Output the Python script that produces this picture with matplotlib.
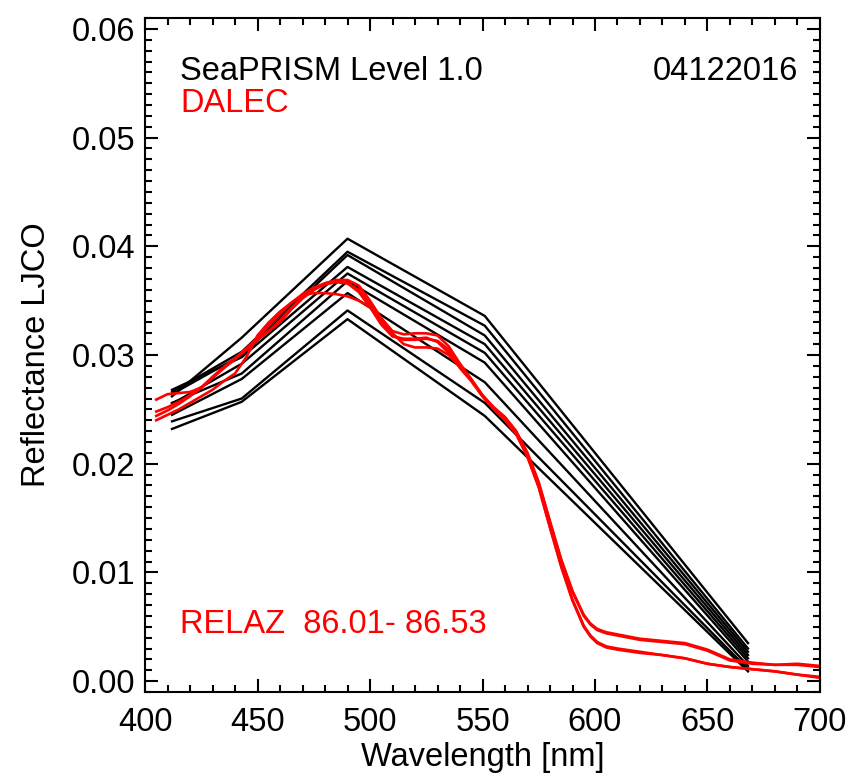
import matplotlib
matplotlib.use('Agg')
import matplotlib.pyplot as plt
from matplotlib.ticker import MultipleLocator, FormatStrFormatter

plt.rcParams['font.family'] = ['Liberation Sans', 'DejaVu Sans']

# SeaPRISM Level 1.0 bands
sp_wl = [412, 443, 490, 551, 668]
sp_spectra = [
    [0.0262, 0.0316, 0.0407, 0.0336, 0.0035],
    [0.0266, 0.0303, 0.0395, 0.0327, 0.0030],
    [0.0264, 0.0300, 0.0392, 0.0318, 0.0027],
    [0.0268, 0.0298, 0.0381, 0.0310, 0.0024],
    [0.0255, 0.0292, 0.0375, 0.0302, 0.0021],
    [0.0256, 0.0283, 0.0368, 0.0293, 0.0018],
    [0.0245, 0.0278, 0.0357, 0.0275, 0.0014],
    [0.0239, 0.0260, 0.0341, 0.0256, 0.0011],
    [0.0232, 0.0257, 0.0333, 0.0244, 0.0009],
]

# DALEC hyperspectral
dl_wl = [405, 410, 415, 420, 425, 430, 435, 440, 445, 450,
         455, 460, 465, 470, 475, 480, 485, 490, 495, 500,
         505, 510, 515, 520, 525, 530, 535, 540, 545, 550,
         555, 560, 565, 570, 575, 580, 585, 590, 595, 598,
         601, 605, 610, 620, 630, 640, 650, 660, 670, 680, 690, 700]
dl_spectra = [
    [0.0259, 0.0264, 0.0265, 0.0266, 0.0270, 0.0279, 0.0288, 0.0296, 0.0305, 0.0315,
     0.0322, 0.0330, 0.0342, 0.0352, 0.0360, 0.0366, 0.0369, 0.0369, 0.0364, 0.0350,
     0.0334, 0.0322, 0.0319, 0.0320, 0.0320, 0.0318, 0.0308, 0.0292, 0.0278, 0.0263,
     0.0252, 0.0243, 0.0230, 0.0210, 0.0183, 0.0147, 0.0112, 0.0083, 0.0061, 0.0053,
     0.0048, 0.0045, 0.0043, 0.0039, 0.0037, 0.0035, 0.0029, 0.0020, 0.0017, 0.0015, 0.0016, 0.0014],
    [0.0248, 0.0252, 0.0257, 0.0263, 0.0270, 0.0280, 0.0289, 0.0297, 0.0305, 0.0314,
     0.0322, 0.0332, 0.0343, 0.0353, 0.0360, 0.0365, 0.0367, 0.0366, 0.0360, 0.0347,
     0.0331, 0.0318, 0.0314, 0.0314, 0.0315, 0.0313, 0.0305, 0.0290, 0.0277, 0.0262,
     0.0251, 0.0242, 0.0229, 0.0209, 0.0182, 0.0146, 0.0111, 0.0082, 0.0060, 0.0052,
     0.0047, 0.0044, 0.0042, 0.0038, 0.0036, 0.0034, 0.0028, 0.0019, 0.0016, 0.0015, 0.0015, 0.0013],
    [0.0240, 0.0245, 0.0250, 0.0256, 0.0262, 0.0268, 0.0276, 0.0283, 0.0298, 0.0318,
     0.0330, 0.0340, 0.0348, 0.0356, 0.0362, 0.0366, 0.0368, 0.0366, 0.0358, 0.0344,
     0.0328, 0.0317, 0.0315, 0.0315, 0.0316, 0.0312, 0.0302, 0.0288, 0.0276, 0.0262,
     0.0250, 0.0240, 0.0227, 0.0206, 0.0178, 0.0141, 0.0105, 0.0074, 0.0050, 0.0041,
     0.0035, 0.0031, 0.0029, 0.0026, 0.0024, 0.0021, 0.0016, 0.0013, 0.0011, 0.0009, 0.0006, 0.0003],
    [0.0244, 0.0249, 0.0255, 0.0262, 0.0270, 0.0279, 0.0288, 0.0297, 0.0306, 0.0316,
     0.0327, 0.0338, 0.0348, 0.0355, 0.0357, 0.0357, 0.0356, 0.0354, 0.0350, 0.0344,
     0.0334, 0.0320, 0.0310, 0.0307, 0.0307, 0.0306, 0.0300, 0.0289, 0.0277, 0.0263,
     0.0251, 0.0241, 0.0228, 0.0207, 0.0179, 0.0142, 0.0106, 0.0075, 0.0051, 0.0042,
     0.0036, 0.0032, 0.0030, 0.0027, 0.0024, 0.0021, 0.0016, 0.0013, 0.0011, 0.0009, 0.0006, 0.0004],
]

date_str = '04122016'
relaz_str = 'RELAZ  86.01- 86.53'

fs = 23.5
fig = plt.figure(figsize=(8.5, 7.74), dpi=100)
ax = fig.add_axes([0.1706, 0.1059, 0.7941, 0.8708])

for s in sp_spectra:
    ax.plot(sp_wl, s, color='black', lw=1.7)
for s in dl_spectra:
    ax.plot(dl_wl, s, color='red', lw=1.9)

ax.set_xlim(400, 700)
ax.set_ylim(-0.001, 0.061)
ax.xaxis.set_major_locator(MultipleLocator(50))
ax.xaxis.set_minor_locator(MultipleLocator(10))
ax.yaxis.set_major_locator(MultipleLocator(0.01))
ax.yaxis.set_minor_locator(MultipleLocator(0.001))
ax.yaxis.set_major_formatter(FormatStrFormatter('%.2f'))
ax.tick_params(which='both', direction='in', top=True, right=True, width=1.5, labelsize=fs)
ax.tick_params(which='major', length=9.5)
ax.tick_params(which='minor', length=5)
ax.tick_params(axis='x', pad=11)
ax.tick_params(axis='y', pad=7)
for sp in ax.spines.values():
    sp.set_linewidth(1.5)

ax.set_xlabel('Wavelength [nm]', fontsize=fs, labelpad=2.5)
ax.set_ylabel('Reflectance LJCO', fontsize=fs, labelpad=14)

ax.text(0.052, 0.908, 'SeaPRISM Level 1.0', transform=ax.transAxes, fontsize=fs, ha='left', va='baseline')
ax.text(0.967, 0.908, date_str, transform=ax.transAxes, fontsize=fs, ha='right', va='baseline')
ax.text(0.052, 0.861, 'DALEC', transform=ax.transAxes, fontsize=fs, color='red', ha='left', va='baseline')
ax.text(0.052, 0.088, relaz_str, transform=ax.transAxes, fontsize=fs, color='red', ha='left', va='baseline')

fig.savefig('out.png', dpi=100)
